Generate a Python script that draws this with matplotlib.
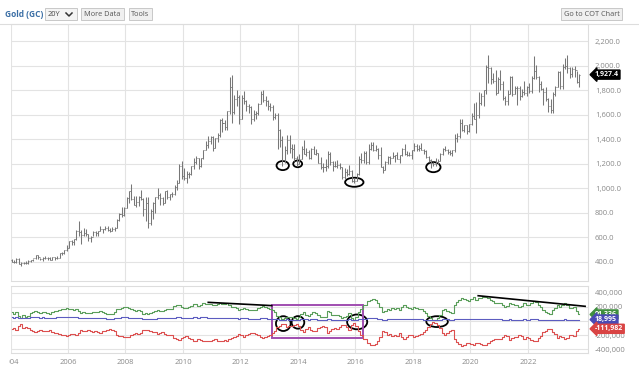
import numpy as np
import matplotlib
matplotlib.use("Agg")
import matplotlib.pyplot as plt
import matplotlib.transforms as mtrans
from matplotlib.patches import Ellipse, Rectangle
from matplotlib.lines import Line2D
from matplotlib.ticker import FixedLocator, FuncFormatter

plt.rcParams['font.family'] = ['Open Sans', 'DejaVu Sans']

# monthly gold futures bars, Jan 2004 .. Oct 2023
first_open = 416
close_px = [
    402, 397, 427, 387, 394, 395, 391, 409, 416, 429, 453, 438,
    422, 436, 429, 436, 417, 437, 430, 434, 473, 470, 496, 518,
    569, 565, 584, 655, 645, 616, 634, 626, 599, 606, 648, 635,
    653, 672, 669, 680, 659, 650, 668, 673, 746, 795, 783, 838,
    923, 975, 916, 863, 885, 930, 914, 833, 884, 718, 818, 884,
    928, 942, 923, 884, 980, 927, 954, 955, 1008, 1040, 1183, 1097,
    1083, 1118, 1115, 1179, 1213, 1244, 1180, 1247, 1309, 1357, 1385, 1421,
    1333, 1410, 1439, 1556, 1536, 1500, 1628, 1825, 1624, 1725, 1746, 1566,
    1740, 1711, 1669, 1664, 1562, 1604, 1615, 1687, 1773, 1719, 1711, 1675,
    1663, 1578, 1596, 1476, 1393, 1234, 1313, 1396, 1327, 1323, 1250, 1202,
    1240, 1321, 1284, 1296, 1250, 1322, 1282, 1287, 1210, 1171, 1176, 1184,
    1279, 1213, 1183, 1182, 1190, 1172, 1095, 1135, 1115, 1142, 1064, 1060,
    1118, 1238, 1233, 1292, 1215, 1322, 1350, 1311, 1317, 1274, 1173, 1152,
    1211, 1253, 1249, 1268, 1269, 1242, 1270, 1322, 1284, 1271, 1276, 1309,
    1345, 1318, 1327, 1315, 1305, 1254, 1232, 1206, 1196, 1218, 1226, 1283,
    1325, 1316, 1298, 1285, 1310, 1413, 1427, 1529, 1472, 1514, 1464, 1523,
    1587, 1566, 1596, 1694, 1751, 1800, 1986, 1978, 1895, 1879, 1780, 1895,
    1850, 1734, 1715, 1769, 1905, 1771, 1817, 1818, 1757, 1784, 1774, 1829,
    1795, 1900, 1954, 1911, 1848, 1807, 1782, 1726, 1672, 1640, 1768, 1826,
    1945, 1837, 1987, 1999, 1982, 1929, 1970, 1966, 1866, 1927.4,
]
high_px = [
    428, 420, 430, 429, 396, 400, 409, 418, 418, 428, 455, 456,
    432, 440, 447, 437, 437, 443, 438, 448, 476, 480, 498, 541,
    571, 576, 589, 660, 732, 660, 680, 666, 630, 611, 652, 650,
    656, 691, 670, 696, 691, 673, 684, 684, 750, 797, 849, 845,
    933, 976, 1034, 939, 934, 938, 990, 920, 928, 930, 828, 887,
    932, 1007, 964, 929, 981, 990, 957, 967, 1024, 1072, 1195, 1227,
    1163, 1142, 1135, 1184, 1249, 1266, 1245, 1251, 1312, 1388, 1424, 1431,
    1424, 1413, 1448, 1569, 1577, 1557, 1632, 1911, 1923, 1760, 1804, 1763,
    1765, 1792, 1719, 1684, 1668, 1640, 1628, 1692, 1790, 1798, 1755, 1724,
    1697, 1682, 1617, 1617, 1487, 1424, 1348, 1433, 1434, 1362, 1361, 1267,
    1280, 1345, 1392, 1332, 1315, 1332, 1346, 1325, 1292, 1255, 1209, 1238,
    1307, 1295, 1225, 1224, 1232, 1205, 1174, 1170, 1157, 1191, 1146, 1088,
    1127, 1263, 1287, 1303, 1305, 1362, 1377, 1375, 1352, 1326, 1337, 1181,
    1221, 1264, 1263, 1297, 1273, 1297, 1276, 1332, 1362, 1306, 1299, 1310,
    1366, 1365, 1356, 1370, 1320, 1309, 1264, 1237, 1214, 1245, 1241, 1286,
    1331, 1349, 1324, 1309, 1312, 1443, 1453, 1566, 1566, 1519, 1517, 1527,
    1613, 1693, 1705, 1788, 1775, 1804, 2005, 2089, 1993, 1941, 1968, 1907,
    1962, 1877, 1757, 1799, 1916, 1919, 1836, 1834, 1834, 1814, 1877, 1832,
    1855, 1915, 2078, 2003, 1914, 1879, 1815, 1824, 1738, 1730, 1786, 1834,
    1955, 1959, 2015, 2062, 2085, 1987, 1987, 1997, 1953, 1935,
]
low_px = [
    399, 392, 392, 381, 371, 383, 386, 387, 398, 411, 423, 428,
    418, 411, 425, 420, 414, 414, 418, 428, 433, 460, 468, 489,
    514, 537, 538, 583, 612, 543, 611, 612, 573, 560, 614, 608,
    608, 651, 636, 664, 653, 642, 651, 650, 673, 734, 770, 775,
    838, 883, 905, 865, 850, 858, 905, 774, 735, 681, 705, 748,
    803, 914, 866, 865, 884, 913, 905, 932, 942, 990, 1043, 1076,
    1072, 1045, 1086, 1112, 1155, 1196, 1155, 1177, 1240, 1312, 1330, 1360,
    1308, 1326, 1381, 1418, 1462, 1478, 1478, 1603, 1535, 1603, 1672, 1523,
    1564, 1688, 1627, 1616, 1527, 1549, 1564, 1596, 1686, 1704, 1672, 1635,
    1627, 1555, 1566, 1321, 1338, 1180, 1207, 1284, 1292, 1251, 1221, 1182,
    1200, 1238, 1277, 1268, 1240, 1240, 1280, 1273, 1206, 1160, 1131, 1142,
    1167, 1191, 1142, 1175, 1169, 1162, 1077, 1080, 1098, 1113, 1052, 1046,
    1062, 1107, 1208, 1207, 1200, 1199, 1310, 1302, 1302, 1241, 1171, 1122,
    1146, 1197, 1195, 1245, 1214, 1237, 1204, 1267, 1276, 1262, 1264, 1236,
    1302, 1307, 1303, 1312, 1281, 1250, 1211, 1167, 1180, 1182, 1196, 1222,
    1276, 1302, 1281, 1270, 1268, 1300, 1382, 1412, 1466, 1460, 1446, 1461,
    1517, 1562, 1451, 1577, 1680, 1670, 1772, 1863, 1851, 1860, 1764, 1775,
    1803, 1717, 1677, 1678, 1769, 1750, 1767, 1677, 1721, 1745, 1760, 1753,
    1781, 1780, 1890, 1889, 1787, 1805, 1681, 1710, 1622, 1618, 1618, 1755,
    1826, 1810, 1812, 1975, 1941, 1900, 1904, 1904, 1860, 1823,
]

# COT net positions (thousands of contracts), monthly
large_spec = [
    120, 100, 125, 70, 45, 80, 60, 75, 110, 125, 135, 120,
    110, 125, 120, 115, 105, 130, 140, 145, 160, 170, 175, 180,
    175, 165, 160, 170, 140, 110, 120, 115, 110, 115, 130, 125,
    130, 135, 120, 115, 100, 95, 105, 120, 165, 175, 185, 195,
    200, 190, 170, 150, 140, 150, 145, 105, 110, 100, 115, 130,
    135, 150, 140, 135, 160, 165, 170, 175, 210, 225, 230, 200,
    190, 185, 200, 215, 235, 240, 215, 230, 250, 245, 235, 240,
    230, 220, 240, 250, 240, 235, 250, 220, 200, 195, 185, 160,
    170, 190, 170, 150, 150, 150, 160, 180, 200, 210, 195, 185,
    175, 150, 120, 70, 55, 25, 35, 60, 55, 50, 40, 30,
    55, 100, 130, 90, 70, 100, 120, 115, 80, 60, 50, 60,
    140, 120, 90, 80, 90, 70, 40, 50, 70, 110, 40, 15,
    60, 120, 170, 220, 230, 280, 300, 310, 300, 260, 200, 130,
    140, 170, 155, 190, 170, 190, 150, 200, 230, 200, 180, 170,
    200, 190, 170, 165, 140, 110, 70, 40, 10, 20, 45, 80,
    150, 170, 140, 120, 110, 230, 270, 300, 320, 310, 290, 280,
    310, 340, 300, 320, 330, 340, 340, 320, 290, 280, 260, 250,
    250, 220, 200, 210, 260, 240, 220, 230, 200, 210, 250, 230,
    230, 260, 280, 270, 230, 200, 150, 130, 110, 100, 150, 180,
    230, 200, 220, 250, 230, 190, 190, 200, 140, 91.336,
]
small_spec = [
    50, 45, 52, 40, 35, 42, 44, 46, 50, 52, 55, 50,
    48, 50, 48, 46, 42, 45, 48, 50, 52, 55, 55, 58,
    55, 52, 50, 50, 42, 35, 38, 36, 35, 36, 40, 40,
    40, 42, 38, 36, 33, 32, 34, 38, 45, 48, 50, 52,
    50, 48, 42, 38, 36, 38, 36, 30, 30, 28, 30, 32,
    34, 38, 36, 35, 40, 42, 42, 44, 48, 50, 52, 48,
    46, 44, 46, 48, 52, 52, 48, 50, 52, 50, 48, 48,
    46, 44, 46, 48, 46, 45, 46, 44, 40, 40, 38, 34,
    36, 40, 36, 34, 32, 30, 30, 34, 38, 40, 38, 34,
    32, 28, 26, 22, 20, 16, 18, 22, 20, 20, 18, 16,
    18, 24, 26, 22, 20, 22, 25, 24, 20, 18, 18, 18,
    24, 22, 18, 18, 18, 16, 14, 14, 18, 22, 14, 10,
    14, 24, 28, 32, 32, 36, 38, 38, 36, 32, 26, 20,
    20, 24, 24, 26, 24, 26, 22, 28, 30, 28, 26, 24,
    28, 26, 24, 24, 20, 18, 14, 10, 8, 10, 14, 18,
    22, 24, 22, 20, 18, 28, 30, 32, 34, 32, 30, 30,
    32, 34, 28, 24, 24, 26, 28, 28, 26, 24, 22, 22,
    22, 20, 18, 18, 22, 20, 18, 20, 18, 18, 22, 20,
    20, 24, 26, 24, 20, 18, 14, 12, 12, 10, 14, 16,
    20, 18, 20, 22, 20, 18, 18, 18, 16, 18.995,
]
commercial = [
    -120, -100, -130, -70, -50, -95, -80, -95, -130, -150, -160, -145,
    -135, -150, -140, -140, -130, -155, -165, -170, -190, -200, -205, -210,
    -200, -190, -185, -195, -165, -135, -145, -140, -135, -140, -155, -150,
    -155, -165, -150, -140, -125, -120, -130, -150, -195, -210, -220, -230,
    -235, -225, -205, -180, -170, -180, -175, -130, -135, -125, -140, -155,
    -160, -180, -170, -160, -190, -195, -200, -205, -245, -260, -270, -240,
    -225, -220, -240, -255, -280, -285, -255, -270, -290, -285, -280, -285,
    -275, -260, -280, -290, -280, -275, -290, -260, -240, -235, -220, -190,
    -200, -225, -200, -180, -175, -175, -185, -205, -235, -245, -230, -215,
    -205, -170, -140, -90, -75, -40, -50, -80, -75, -70, -60, -50,
    -75, -125, -155, -110, -90, -125, -145, -140, -100, -80, -70, -80,
    -165, -145, -110, -100, -110, -90, -55, -65, -90, -135, -55, -25,
    -75, -145, -195, -250, -260, -310, -335, -345, -330, -290, -225, -150,
    -160, -195, -180, -215, -195, -215, -175, -230, -260, -230, -205, -195,
    -230, -215, -195, -190, -160, -130, -85, -50, -20, -30, -60, -100,
    -175, -195, -165, -140, -130, -255, -300, -330, -355, -340, -320, -310,
    -325, -345, -310, -320, -325, -335, -335, -315, -290, -275, -260, -250,
    -250, -225, -205, -215, -265, -245, -225, -235, -205, -215, -255, -235,
    -240, -270, -290, -280, -240, -210, -160, -140, -120, -110, -160, -190,
    -240, -210, -230, -260, -240, -200, -200, -210, -150, -111.982,
]

# hand-drawn markup on the chart: (year, value)
price_circles = [(2013.47, 1186, 0.43, 74), (2013.99, 1200, 0.31, 55),
                 (2015.96, 1050, 0.64, 74), (2018.71, 1173, 0.50, 82)]
cot_circles = [(2013.49, -38, 0.51, 210), (2014.0, -21, 0.44, 178),
               (2016.06, -14, 0.70, 210), (2018.84, -10, 0.75, 154)]
cot_trendlines = [((2010.88, 2013.09), (263, 217)),
                  ((2020.27, 2023.99), (357, 207))]
cot_box = (2013.11, -245, 2016.27, 231)

W, H = 639, 367
n = len(close_px)
t = 2004 + (np.arange(n) + 0.5) / 12
open_px = [first_open] + close_px[:-1]

fig = plt.figure(figsize=(W / 100, H / 100), dpi=100)


def fx(px):
    return px / W


def fy(py):
    return 1 - py / H


ax = fig.add_axes([fx(10.5), fy(281), fx(577.5), (281 - 24) / H])
ax2 = fig.add_axes([fx(10.5), fy(353), fx(577.5), (353 - 286) / H])

grid_c = '#e3e3e3'
lab_c = '#8a8a8a'

# price bars
bar_c = '#777777'
ax.vlines(t, low_px, high_px, color=bar_c, lw=0.75)
ax.hlines(open_px, t - 0.035, t, color=bar_c, lw=0.7)
ax.hlines(close_px, t, t + 0.035, color=bar_c, lw=0.7)
ax.set_ylim(245, 2340)

for c in price_circles:
    ax.add_patch(Ellipse((c[0], c[1]), c[2], c[3], fill=False, ec='black', lw=1.3))

# COT lines
ax2.step(t, large_spec, where='mid', color='#5a9e5a', lw=0.8)
ax2.step(t, small_spec, where='mid', color='#5c5cc0', lw=0.8)
ax2.step(t, commercial, where='mid', color='#dc5050', lw=0.8)
ax2.set_ylim(-455, 495)

for xs, ys in cot_trendlines:
    ax2.plot(xs, ys, color='black', lw=1.2)
for c in cot_circles:
    ax2.add_patch(Ellipse((c[0], c[1]), c[2], c[3], fill=False, ec='black', lw=1.3))
ax2.add_patch(Rectangle((cot_box[0], cot_box[1]), cot_box[2] - cot_box[0],
                        cot_box[3] - cot_box[1], fill=False, ec='#a04db0', lw=1.4))

years = list(range(2004, 2024, 2))
for a in (ax, ax2):
    a.set_xlim(2004.0, 2024.09)
    a.xaxis.set_major_locator(FixedLocator(years))
    a.grid(True, color=grid_c, lw=0.8)
    a.set_axisbelow(True)
    a.yaxis.tick_right()
    a.tick_params(length=0, labelsize=5.5, labelcolor=lab_c, pad=5)
    for s in a.spines.values():
        s.set_color('#dddddd')
        s.set_linewidth(0.8)
    a.spines['left'].set_visible(False)

ax.tick_params(labelbottom=False)
ax.yaxis.set_major_locator(FixedLocator(range(400, 2201, 200)))
ax.yaxis.set_major_formatter(FuncFormatter(lambda v, p: f'{v:,.1f}'))
ax2.yaxis.set_major_locator(FixedLocator([-400, -200, 0, 200, 400]))
ax2.yaxis.set_major_formatter(FuncFormatter(lambda v, p: f'{v * 1000:,.0f}'))
ax2.set_xticklabels([str(y) for y in years])
ax2.tick_params(axis='x', pad=4)

# value tags at the right edge (green tag sits partly under the blue one, as in the original)
tr = mtrans.blended_transform_factory(ax.transAxes, ax.transData)
ax.text(1.012, close_px[-1], f'{close_px[-1]:,.1f}', transform=tr, va='center', ha='left',
        fontsize=5, color='white', weight='bold', clip_on=False, zorder=10,
        bbox=dict(boxstyle='larrow,pad=0.15', fc='black', ec='black'))
tr2 = mtrans.blended_transform_factory(ax2.transAxes, ax2.transData)
tags = [(large_spec[-1], '#3f8f3f'), (small_spec[-1], '#4a4ab4'), (commercial[-1], '#d94444')]
for val, col in tags:
    ax2.text(1.012, val, f'{val * 1000:,.0f}', transform=tr2, va='center', ha='left',
             fontsize=5, color='white', weight='bold', clip_on=False, zorder=10,
             bbox=dict(boxstyle='larrow,pad=0.15', fc=col, ec=col))

# header toolbar
fig.add_artist(Line2D([0, 1], [fy(23.5), fy(23.5)], color='#dddddd', lw=0.8))
fig.text(fx(5), fy(14.5), 'Gold (GC)', fontsize=6, weight='bold', color='#3a6ea5', va='center')


def button(x0, x1, label):
    fig.add_artist(Rectangle((fx(x0), fy(20)), fx(x1 - x0), 12 / H, transform=fig.transFigure,
                             fc='#f0f0f0', ec='#c8c8c8', lw=0.7))
    fig.text(fx((x0 + x1) / 2), fy(14.3), label, fontsize=5.3, color='#555555',
             ha='center', va='center')


fig.add_artist(Rectangle((fx(45), fy(20)), fx(32), 12 / H, transform=fig.transFigure,
                         fc='#f4f4f4', ec='#c8c8c8', lw=0.7))
fig.text(fx(48), fy(14.3), '20Y', fontsize=5.3, color='#444444', va='center')
fig.add_artist(Line2D([fx(66), fx(69), fx(72)], [fy(13), fy(16), fy(13)], color='#333333', lw=1.1))
button(81, 124, 'More Data')
button(129, 152, 'Tools')
button(561, 622, 'Go to COT Chart')

# the first year label is cut off at the left edge in the original
fig.add_artist(Rectangle((0, 0), fx(8.5), fy(353), transform=fig.transFigure,
                         fc='white', ec='none', zorder=20))

fig.savefig('out.png', dpi=100)
